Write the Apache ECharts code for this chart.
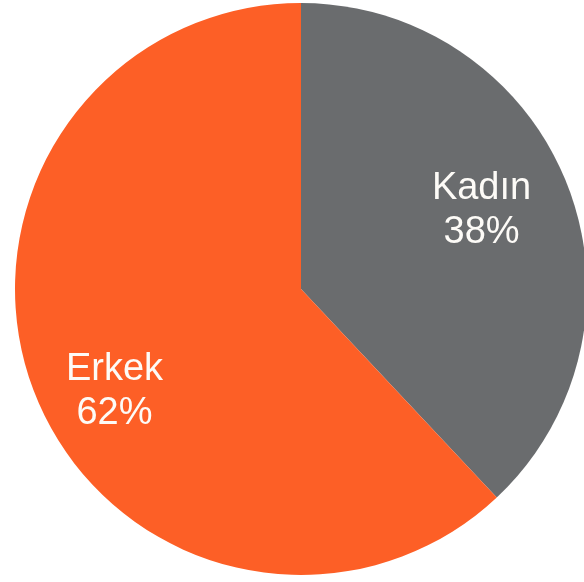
<!DOCTYPE html>
<html>
<head>
<meta charset="utf-8">
<script src="https://cdn.jsdelivr.net/npm/echarts@6/dist/echarts.min.js"></script>
<style>
html,body{margin:0;padding:0;background:#fff;}
#chart{width:584px;height:582px;}
</style>
</head>
<body>
<div id="chart"></div>
<script>
var categories = ['Kadın', 'Erkek'];
var values = [38, 62];
var colors = ['#6A6C6E', '#FD5F26'];

var labelNudge = [[-11, -3], [5, 27]];

var data = categories.map(function (c, i) {
  return { name: c, value: values[i], itemStyle: { color: colors[i] } };
});
var labelData = categories.map(function (c, i) {
  return { name: c, value: values[i] };
});

var chart = echarts.init(document.getElementById('chart'));
chart.setOption({
  animation: false,
  backgroundColor: '#ffffff',
  series: [
    {
      type: 'pie',
      center: [301, 289],
      radius: [0, 286],
      startAngle: 90,
      clockwise: true,
      silent: true,
      label: { show: false },
      labelLine: { show: false },
      itemStyle: { borderWidth: 0 },
      data: data
    },
    {
      type: 'pie',
      center: [301, 289],
      radius: [120, 286],
      startAngle: 90,
      clockwise: true,
      silent: true,
      itemStyle: { color: 'rgba(0,0,0,0)', borderWidth: 0 },
      label: {
        show: true,
        position: 'inside',
        formatter: '{b}\n{d}%',
        color: '#fdfbf7',
        fontFamily: 'Liberation Sans, Arial, sans-serif',
        fontSize: 38,
        lineHeight: 44,
        align: 'center'
      },
      labelLayout: function (p) {
        var n = labelNudge[p.dataIndex];
        return { dx: n[0], dy: n[1] };
      },
      labelLine: { show: false },
      data: labelData
    }
  ]
});
</script>
</body>
</html>
